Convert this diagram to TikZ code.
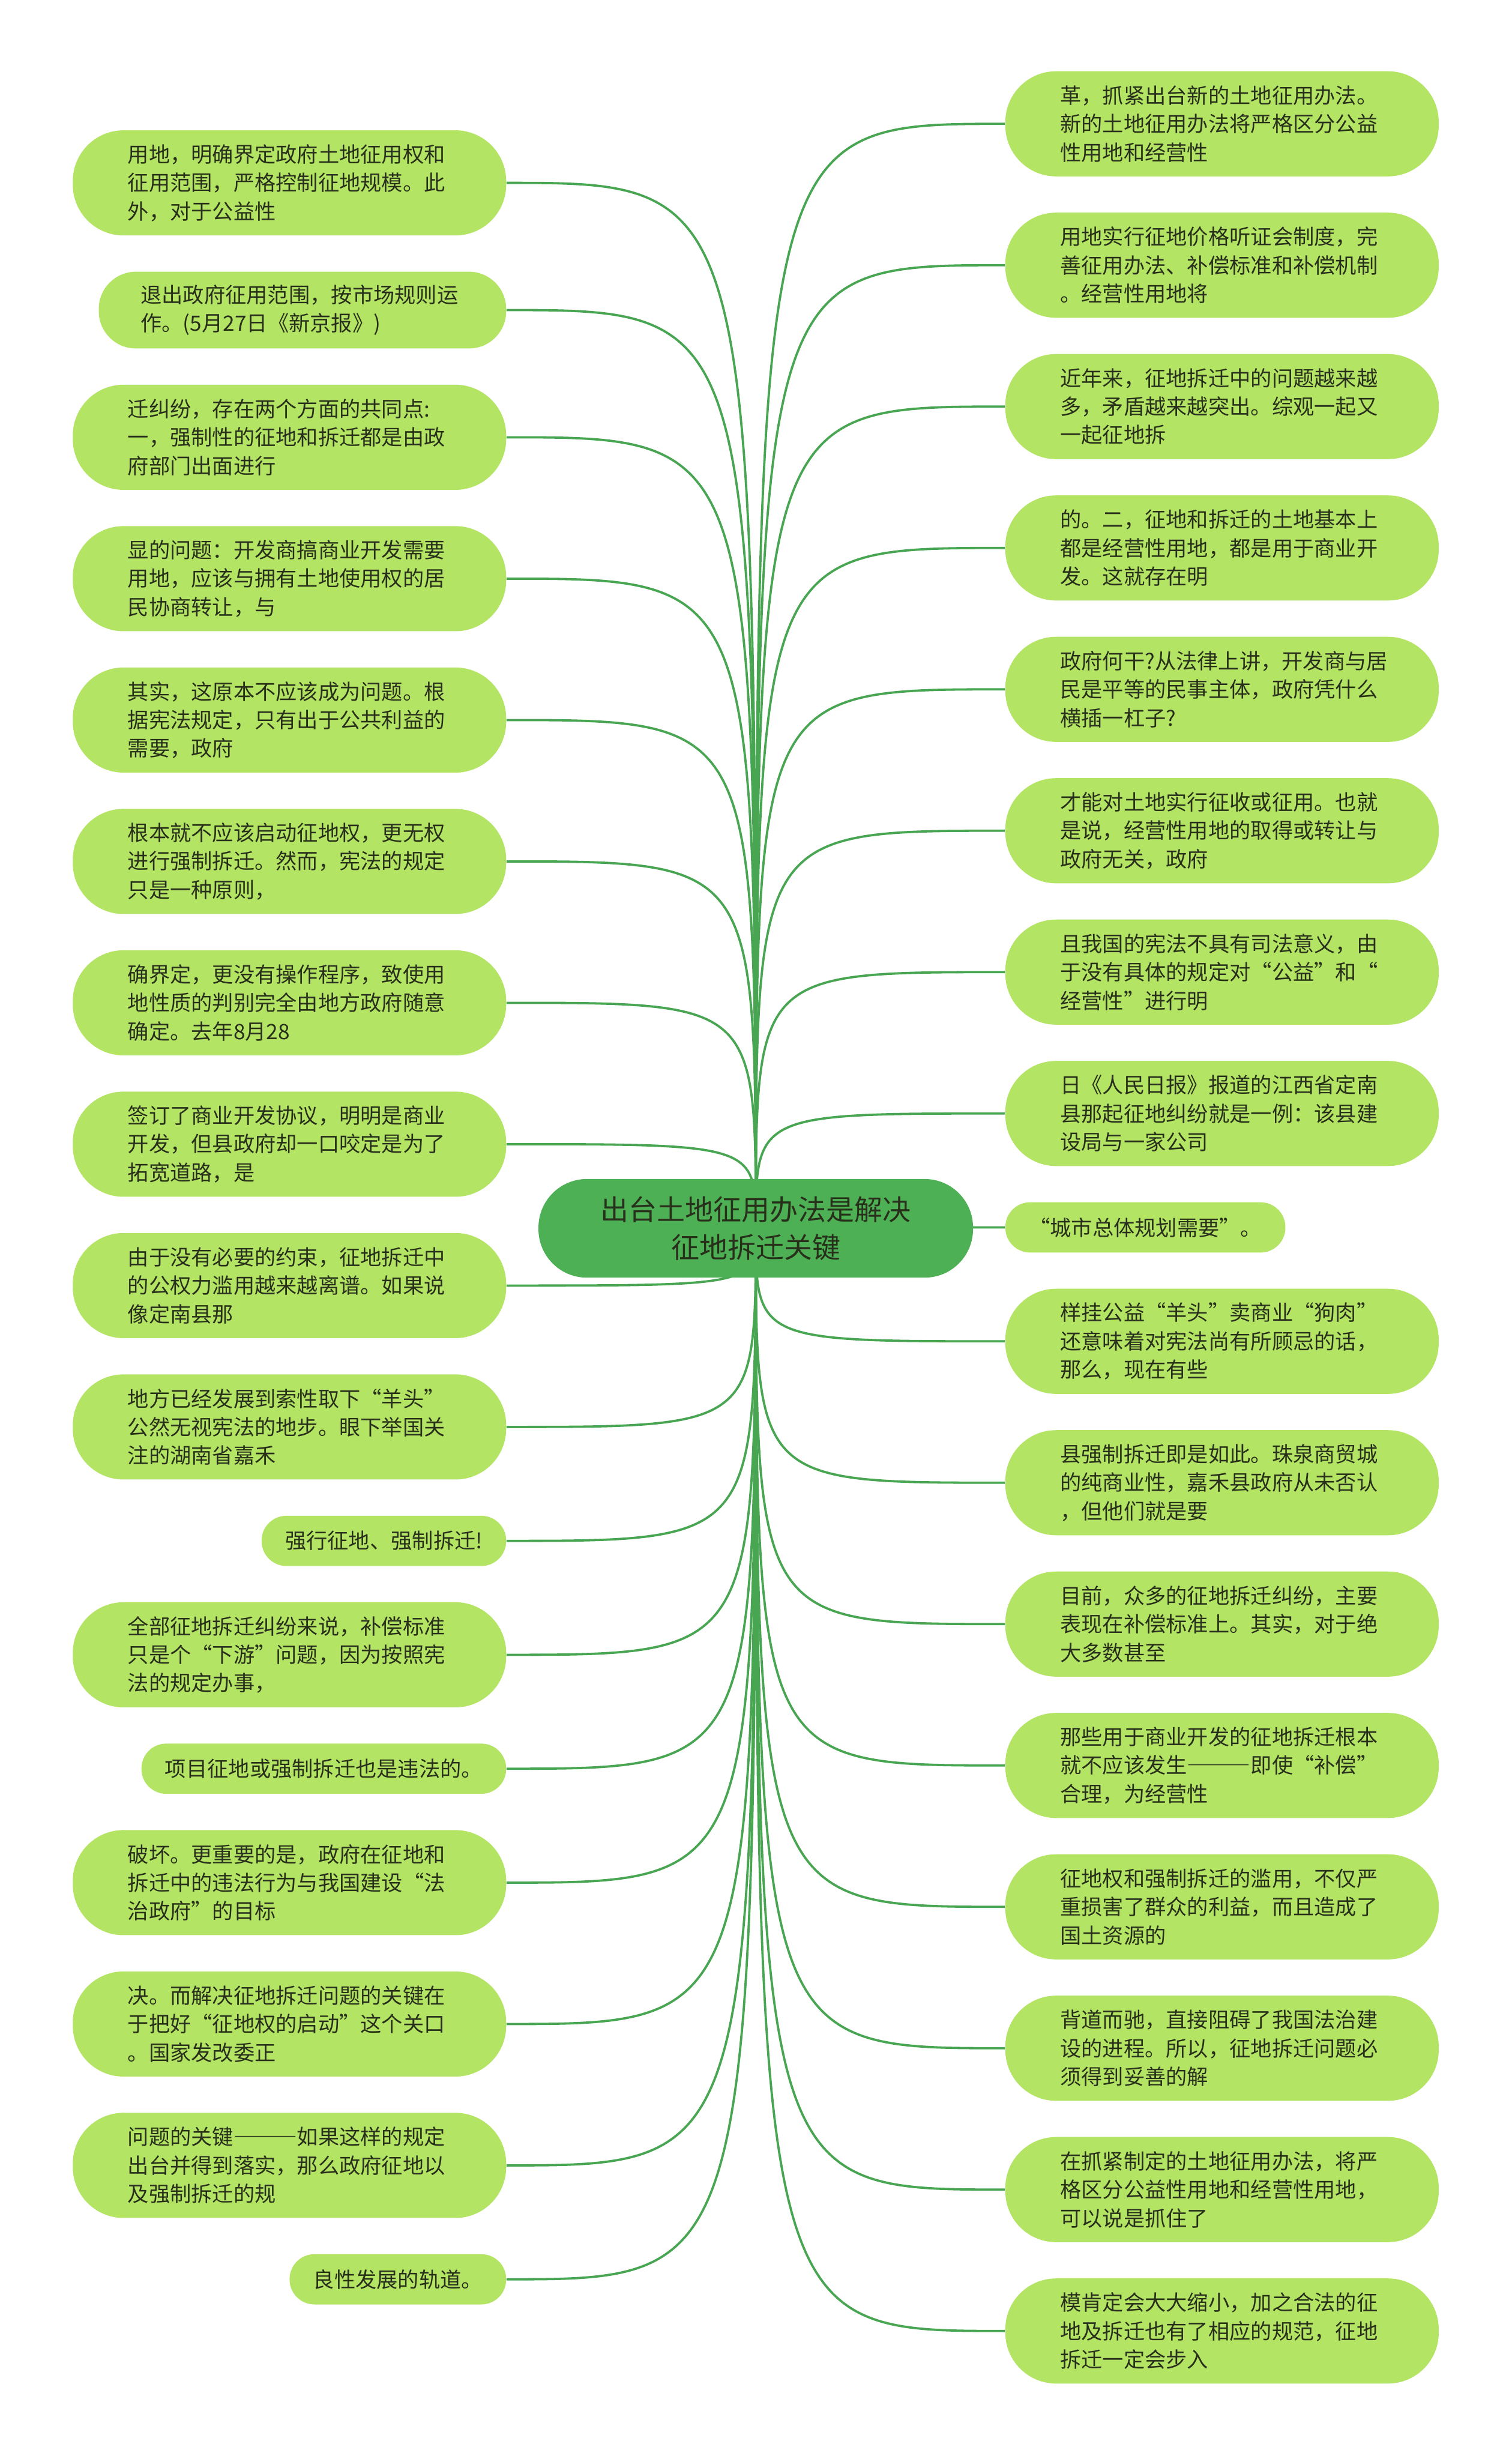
\documentclass[tikz,border=0pt]{standalone}
\usepackage{fontspec}
\newfontfamily\cjk{Noto Sans CJK SC}
\usepackage{tikz}
\usetikzlibrary{positioning,backgrounds}

\definecolor{leafgreen}{RGB}{180,228,100}
\definecolor{rootgreen}{RGB}{78,176,84}
\definecolor{linegreen}{RGB}{72,165,82}
\definecolor{inkdark}{RGB}{40,48,28}
\newcommand{\longdash}{{\addfontfeatures{RawFeature=+fwid}———}}

\begin{document}
\begin{tikzpicture}[
  leafthree/.style={fill=leafgreen, text=inkdark, rounded corners=0.86cm,
    minimum height=1.78cm, text width=5.48cm, align=left, inner xsep=0.93cm,
    font=\cjk\fontsize{10.2pt}{13.7pt}\selectfont},
  leaftwo/.style={leafthree, rounded corners=0.63cm, minimum height=1.30cm,
    inner xsep=0.71cm},
  leafone/.style={fill=leafgreen, text=inkdark, rounded corners=0.42cm,
    minimum height=0.85cm, inner xsep=0.40cm,
    font=\cjk\fontsize{10.2pt}{13.7pt}\selectfont},
  rootnode/.style={fill=rootgreen, text=inkdark, rounded corners=0.82cm,
    minimum width=7.36cm, minimum height=1.67cm, align=center,
    font=\cjk\fontsize{13.6pt}{18.2pt}\selectfont},
  branch/.style={draw=linegreen, line width=1.1pt}
]
\useasboundingbox (-12.8,-20.84) rectangle (12.8,20.8);

\node[rootnode] (root) at (0,0) {出台土地征用办法是解决\\征地拆迁关键};

% left column
\node[leafthree, anchor=north east] (l1) at (-4.22,18.60)
{用地，明确界定政府土地征用权和\\征用范围，严格控制征地规模。此\\外，对于公益性};
\node[leaftwo, below=0.60cm of l1.south east, anchor=north east] (l2)
{退出政府征用范围，按市场规则运\\作。(5月27日《新京报》)};
\node[leafthree, below=0.60cm of l2.south east, anchor=north east] (l3)
{迁纠纷，存在两个方面的共同点:\\一，强制性的征地和拆迁都是由政\\府部门出面进行};
\node[leafthree, below=0.60cm of l3.south east, anchor=north east] (l4)
{显的问题：开发商搞商业开发需要\\用地，应该与拥有土地使用权的居\\民协商转让，与};
\node[leafthree, below=0.60cm of l4.south east, anchor=north east] (l5)
{其实，这原本不应该成为问题。根\\据宪法规定，只有出于公共利益的\\需要，政府};
\node[leafthree, below=0.60cm of l5.south east, anchor=north east] (l6)
{根本就不应该启动征地权，更无权\\进行强制拆迁。然而，宪法的规定\\只是一种原则，};
\node[leafthree, below=0.60cm of l6.south east, anchor=north east] (l7)
{确界定，更没有操作程序，致使用\\地性质的判别完全由地方政府随意\\确定。去年8月28};
\node[leafthree, below=0.60cm of l7.south east, anchor=north east] (l8)
{签订了商业开发协议，明明是商业\\开发，但县政府却一口咬定是为了\\拓宽道路，是};
\node[leafthree, below=0.60cm of l8.south east, anchor=north east] (l9)
{由于没有必要的约束，征地拆迁中\\的公权力滥用越来越离谱。如果说\\像定南县那};
\node[leafthree, below=0.60cm of l9.south east, anchor=north east] (l10)
{地方已经发展到索性取下“羊头”\\公然无视宪法的地步。眼下举国关\\注的湖南省嘉禾};
\node[leafone, below=0.60cm of l10.south east, anchor=north east] (l11)
{强行征地、强制拆迁!};
\node[leafthree, below=0.60cm of l11.south east, anchor=north east] (l12)
{全部征地拆迁纠纷来说，补偿标准\\只是个“下游”问题，因为按照宪\\法的规定办事，};
\node[leafone, below=0.60cm of l12.south east, anchor=north east] (l13)
{项目征地或强制拆迁也是违法的。};
\node[leafthree, below=0.60cm of l13.south east, anchor=north east] (l14)
{破坏。更重要的是，政府在征地和\\拆迁中的违法行为与我国建设“法\\治政府”的目标};
\node[leafthree, below=0.60cm of l14.south east, anchor=north east] (l15)
{决。而解决征地拆迁问题的关键在\\于把好“征地权的启动”这个关口\\。国家发改委正};
\node[leafthree, below=0.60cm of l15.south east, anchor=north east] (l16)
{问题的关键\longdash 如果这样的规定\\出台并得到落实，那么政府征地以\\及强制拆迁的规};
\node[leafone, below=0.60cm of l16.south east, anchor=north east] (l17)
{良性发展的轨道。};

% right column
\node[leafthree, anchor=north west] (r1) at (4.22,19.60)
{革，抓紧出台新的土地征用办法。\\新的土地征用办法将严格区分公益\\性用地和经营性};
\node[leafthree, below=0.60cm of r1.south west, anchor=north west] (r2)
{用地实行征地价格听证会制度，完\\善征用办法、补偿标准和补偿机制\\。经营性用地将};
\node[leafthree, below=0.60cm of r2.south west, anchor=north west] (r3)
{近年来，征地拆迁中的问题越来越\\多，矛盾越来越突出。综观一起又\\一起征地拆};
\node[leafthree, below=0.60cm of r3.south west, anchor=north west] (r4)
{的。二，征地和拆迁的土地基本上\\都是经营性用地，都是用于商业开\\发。这就存在明};
\node[leafthree, below=0.60cm of r4.south west, anchor=north west] (r5)
{政府何干?从法律上讲，开发商与居\\民是平等的民事主体，政府凭什么\\横插一杠子?};
\node[leafthree, below=0.60cm of r5.south west, anchor=north west] (r6)
{才能对土地实行征收或征用。也就\\是说，经营性用地的取得或转让与\\政府无关，政府};
\node[leafthree, below=0.60cm of r6.south west, anchor=north west] (r7)
{且我国的宪法不具有司法意义，由\\于没有具体的规定对“公益”和“\\经营性”进行明};
\node[leafthree, below=0.60cm of r7.south west, anchor=north west] (r8)
{日《人民日报》报道的江西省定南\\县那起征地纠纷就是一例：该县建\\设局与一家公司};
\node[leafone, below=0.60cm of r8.south west, anchor=north west] (r9)
{“城市总体规划需要”。};
\node[leafthree, below=0.60cm of r9.south west, anchor=north west] (r10)
{样挂公益“羊头”卖商业“狗肉”\\还意味着对宪法尚有所顾忌的话，\\那么，现在有些};
\node[leafthree, below=0.60cm of r10.south west, anchor=north west] (r11)
{县强制拆迁即是如此。珠泉商贸城\\的纯商业性，嘉禾县政府从未否认\\，但他们就是要};
\node[leafthree, below=0.60cm of r11.south west, anchor=north west] (r12)
{目前，众多的征地拆迁纠纷，主要\\表现在补偿标准上。其实，对于绝\\大多数甚至};
\node[leafthree, below=0.60cm of r12.south west, anchor=north west] (r13)
{那些用于商业开发的征地拆迁根本\\就不应该发生\longdash 即使“补偿”\\合理，为经营性};
\node[leafthree, below=0.60cm of r13.south west, anchor=north west] (r14)
{征地权和强制拆迁的滥用，不仅严\\重损害了群众的利益，而且造成了\\国土资源的};
\node[leafthree, below=0.60cm of r14.south west, anchor=north west] (r15)
{背道而驰，直接阻碍了我国法治建\\设的进程。所以，征地拆迁问题必\\须得到妥善的解};
\node[leafthree, below=0.60cm of r15.south west, anchor=north west] (r16)
{在抓紧制定的土地征用办法，将严\\格区分公益性用地和经营性用地，\\可以说是抓住了};
\node[leafthree, below=0.60cm of r16.south west, anchor=north west] (r17)
{模肯定会大大缩小，加之合法的征\\地及拆迁也有了相应的规范，征地\\拆迁一定会步入};

\begin{pgfonlayer}{background}
\fill[white] (-12.8,-20.84) rectangle (12.8,20.8);
% branches to the left
\draw[branch] (root.center) .. controls (root.center|-l1.east) .. (l1.east);
\draw[branch] (root.center) .. controls (root.center|-l2.east) .. (l2.east);
\draw[branch] (root.center) .. controls (root.center|-l3.east) .. (l3.east);
\draw[branch] (root.center) .. controls (root.center|-l4.east) .. (l4.east);
\draw[branch] (root.center) .. controls (root.center|-l5.east) .. (l5.east);
\draw[branch] (root.center) .. controls (root.center|-l6.east) .. (l6.east);
\draw[branch] (root.center) .. controls (root.center|-l7.east) .. (l7.east);
\draw[branch] (root.center) .. controls (root.center|-l8.east) .. (l8.east);
\draw[branch] (root.center) .. controls (root.center|-l9.east) .. (l9.east);
\draw[branch] (root.center) .. controls (root.center|-l10.east) .. (l10.east);
\draw[branch] (root.center) .. controls (root.center|-l11.east) .. (l11.east);
\draw[branch] (root.center) .. controls (root.center|-l12.east) .. (l12.east);
\draw[branch] (root.center) .. controls (root.center|-l13.east) .. (l13.east);
\draw[branch] (root.center) .. controls (root.center|-l14.east) .. (l14.east);
\draw[branch] (root.center) .. controls (root.center|-l15.east) .. (l15.east);
\draw[branch] (root.center) .. controls (root.center|-l16.east) .. (l16.east);
\draw[branch] (root.center) .. controls (root.center|-l17.east) .. (l17.east);
% branches to the right
\draw[branch] (root.center) .. controls (root.center|-r1.west) .. (r1.west);
\draw[branch] (root.center) .. controls (root.center|-r2.west) .. (r2.west);
\draw[branch] (root.center) .. controls (root.center|-r3.west) .. (r3.west);
\draw[branch] (root.center) .. controls (root.center|-r4.west) .. (r4.west);
\draw[branch] (root.center) .. controls (root.center|-r5.west) .. (r5.west);
\draw[branch] (root.center) .. controls (root.center|-r6.west) .. (r6.west);
\draw[branch] (root.center) .. controls (root.center|-r7.west) .. (r7.west);
\draw[branch] (root.center) .. controls (root.center|-r8.west) .. (r8.west);
\draw[branch] (root.center) .. controls (root.center|-r9.west) .. (r9.west);
\draw[branch] (root.center) .. controls (root.center|-r10.west) .. (r10.west);
\draw[branch] (root.center) .. controls (root.center|-r11.west) .. (r11.west);
\draw[branch] (root.center) .. controls (root.center|-r12.west) .. (r12.west);
\draw[branch] (root.center) .. controls (root.center|-r13.west) .. (r13.west);
\draw[branch] (root.center) .. controls (root.center|-r14.west) .. (r14.west);
\draw[branch] (root.center) .. controls (root.center|-r15.west) .. (r15.west);
\draw[branch] (root.center) .. controls (root.center|-r16.west) .. (r16.west);
\draw[branch] (root.center) .. controls (root.center|-r17.west) .. (r17.west);
\end{pgfonlayer}
\end{tikzpicture}
\end{document}
